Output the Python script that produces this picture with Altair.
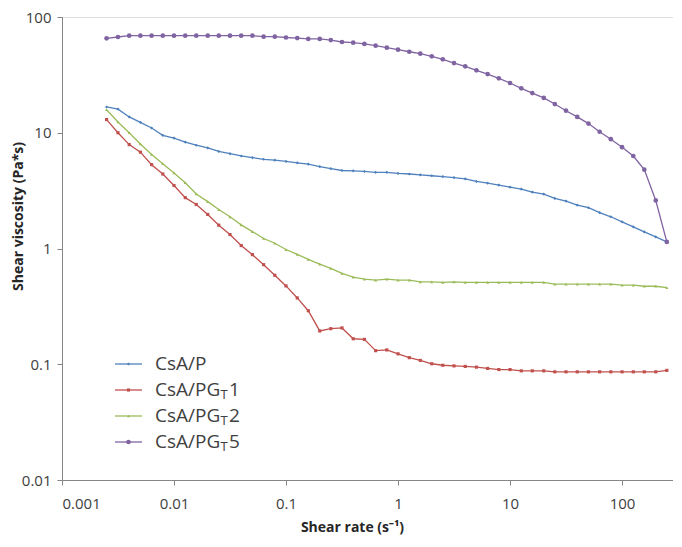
import altair as alt
import pandas as pd

# ---------------- data ----------------
shear_rate = [0.0025, 0.00316, 0.00398, 0.00501, 0.00631, 0.00794,
              0.01, 0.0126, 0.0158, 0.02, 0.0251, 0.0316, 0.0398, 0.0501, 0.0631, 0.0794,
              0.1, 0.126, 0.158, 0.2, 0.251, 0.316, 0.398, 0.501, 0.631, 0.794,
              1, 1.26, 1.58, 2, 2.51, 3.16, 3.98, 5.01, 6.31, 7.94,
              10, 12.6, 15.8, 20, 25.1, 31.6, 39.8, 50.1, 63.1, 79.4,
              100, 126, 158, 200, 251]

csa_p = [16.7, 16.0, 13.7, 12.3, 11.0, 9.5, 9.0, 8.3, 7.8, 7.4, 6.9, 6.6, 6.3, 6.1,
         5.9, 5.8, 5.65, 5.5, 5.35, 5.1, 4.9, 4.72, 4.69, 4.63, 4.55, 4.55,
         4.45, 4.4, 4.33, 4.25, 4.18, 4.1, 4.0, 3.8, 3.67, 3.53,
         3.39, 3.26, 3.07, 2.95, 2.71, 2.57, 2.37, 2.25, 2.04, 1.88,
         1.70, 1.54, 1.39, 1.26, 1.14]

csa_pgt1 = [13.0, 10.0, 7.9, 6.8, 5.3, 4.4, 3.5, 2.75, 2.40, 1.97, 1.59, 1.32, 1.06, 0.885,
            0.725, 0.587, 0.475, 0.374, 0.29, 0.194, 0.203, 0.206, 0.166, 0.164, 0.131, 0.133,
            0.123, 0.114, 0.108, 0.101, 0.098, 0.0968, 0.0958, 0.0944, 0.092, 0.090,
            0.090, 0.0877, 0.0877, 0.0877, 0.086, 0.086, 0.086, 0.086, 0.086, 0.086,
            0.086, 0.086, 0.086, 0.086, 0.0885]

csa_pgt2 = [15.8, 12.4, 10.0, 8.0, 6.5, 5.4, 4.5, 3.7, 2.96, 2.54, 2.17, 1.88, 1.60, 1.40,
            1.22, 1.11, 0.98, 0.89, 0.805, 0.733, 0.673, 0.609, 0.566, 0.544, 0.533, 0.544,
            0.533, 0.533, 0.515, 0.515, 0.51, 0.515, 0.51, 0.51, 0.51, 0.51,
            0.51, 0.51, 0.51, 0.51, 0.492, 0.492, 0.492, 0.492, 0.492, 0.492,
            0.482, 0.482, 0.472, 0.472, 0.46]

csa_pgt5 = [65.4, 67.2, 69, 69, 69, 69, 69, 69, 69, 69, 69, 69, 69, 69,
            67.6, 67.6, 66.5, 65.8, 64.6, 64.6, 63.2, 60.8, 60.0, 58.5, 56.5, 54.3,
            52.2, 50.1, 48.2, 45.7, 43.1, 40.0, 37.5, 34.6, 32.1, 29.5,
            26.9, 24.2, 22.0, 20.0, 17.7, 15.5, 13.7, 12.0, 10.2, 8.8,
            7.5, 6.3, 4.8, 2.6, 1.14]

series_names = ["CsA/P", "CsA/PGT1", "CsA/PGT2", "CsA/PGT5"]
legend_main = ["CsA/P", "CsA/PG", "CsA/PG", "CsA/PG"]
legend_sub = ["", "T", "T", "T"]
legend_tail = ["", "1", "2", "5"]

x_ticks = [0.001, 0.01, 0.1, 1, 10, 100]
y_ticks = [0.01, 0.1, 1, 10, 100]

# ---------------- styles ----------------
colors = ["#4F81BD", "#C0504D", "#9BBB59", "#8064A2"]
shapes = ["diamond", "square", "triangle-up", "circle"]
FONT = "Open Sans"
AXIS_GREY = "#868686"
TEXT = "#404040"

rows = []
for name, vals in zip(series_names, [csa_p, csa_pgt1, csa_pgt2, csa_pgt5]):
    for xv, yv in zip(shear_rate, vals):
        rows.append({"rate": xv, "visc": yv, "series": name})
df = pd.DataFrame(rows)

x_enc = alt.X(
    "rate:Q",
    scale=alt.Scale(type="log", domain=[0.001, 285], nice=False),
    axis=alt.Axis(
        values=x_ticks, format="~g", title="Shear rate (s\u207b\u00b9)", grid=False,
        domainColor=AXIS_GREY, tickColor=AXIS_GREY, tickSize=5,
        labelFont=FONT, labelFontSize=15, labelColor=TEXT, labelPadding=11,
        titleFont=FONT, titleFontSize=14, titleFontWeight="bold", titleColor="#262626",
        titleX=290, titleY=47, titleBaseline="middle", titleAlign="center",
    ),
)
y_enc = alt.Y(
    "visc:Q",
    scale=alt.Scale(type="log", domain=[0.01, 100], nice=False),
    axis=alt.Axis(
        values=y_ticks, format="~g", title="Shear viscosity (Pa*s)", grid=False,
        domainColor=AXIS_GREY, tickColor=AXIS_GREY, tickSize=5,
        labelFont=FONT, labelFontSize=15, labelColor=TEXT, labelPadding=6,
        titleFont=FONT, titleFontSize=14, titleFontWeight="bold", titleColor="#262626",
        titleX=-44, titleY=199, titleBaseline="middle", titleAlign="center", titleAngle=270,
    ),
)
color_enc = alt.Color("series:N", scale=alt.Scale(domain=series_names, range=colors), legend=None)
shape_enc = alt.Shape("series:N", scale=alt.Scale(domain=series_names, range=shapes), legend=None)

base = alt.Chart(df).encode(x=x_enc, y=y_enc, color=color_enc)

lines = base.mark_line(strokeWidth=1.3)
pts_small = base.transform_filter(alt.datum.series != "CsA/PGT5").mark_point(
    filled=True, opacity=1, size=10).encode(shape=shape_enc)
pts_big = base.transform_filter(alt.datum.series == "CsA/PGT5").mark_point(
    filled=True, opacity=1, size=22, shape="circle")

layers = [lines, pts_small, pts_big]

# ---------------- manual legend (for subscript T) ----------------
row_y = [347, 373, 399, 425]
for i in range(4):
    ldf = pd.DataFrame({"main": [legend_main[i]], "sub": [legend_sub[i]], "tail": [legend_tail[i]]})
    lc = alt.Chart(ldf)
    layers.append(lc.mark_rule(color=colors[i], strokeWidth=1.3).encode(
        x=alt.value(53), x2=alt.value(80), y=alt.value(row_y[i])))
    layers.append(lc.mark_point(filled=True, opacity=1, color=colors[i], shape=shapes[i],
                                size=22 if i == 3 else 10).encode(
        x=alt.value(66.5), y=alt.value(row_y[i])))
    layers.append(lc.mark_text(align="left", baseline="middle", font=FONT, fontSize=19,
                               color=TEXT).encode(
        x=alt.value(93), y=alt.value(row_y[i]), text="main:N"))
    if legend_sub[i]:
        layers.append(lc.mark_text(align="left", baseline="middle", font=FONT, fontSize=13,
                                   color=TEXT).encode(
            x=alt.value(158.5), y=alt.value(row_y[i] + 5), text="sub:N"))
        layers.append(lc.mark_text(align="left", baseline="middle", font=FONT, fontSize=19,
                                   color=TEXT).encode(
            x=alt.value(167), y=alt.value(row_y[i]), text="tail:N"))

chart = alt.layer(*layers).properties(
    width=611, height=463,
    autosize=alt.AutoSizeParams(type="none"),
    padding={"left": 54, "top": 9, "right": 0, "bottom": 58},
).configure_view(stroke=None).configure(background="white")

chart.save("out.html", embed_options={"renderer": "svg", "actions": False})
